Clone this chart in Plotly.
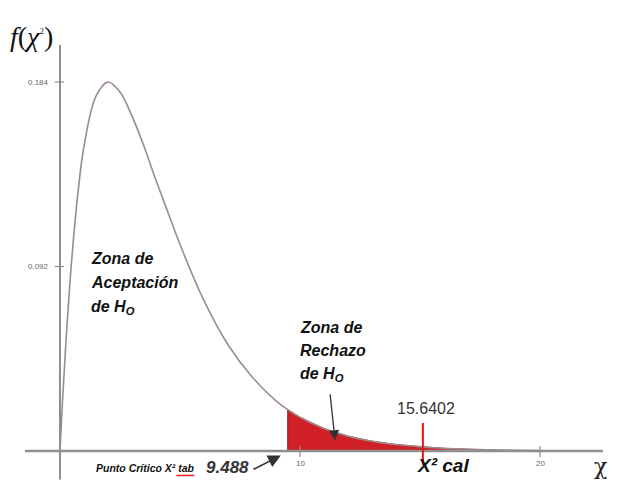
import plotly.graph_objects as go

# Chi-square density (df = 4)
chi_x = [0, 0.1, 0.25, 0.5, 0.75, 1, 1.5, 2, 2.5, 3, 3.5, 4, 4.5, 5, 6, 7, 8, 9,
         9.488, 10, 11, 12, 13, 14, 15, 16, 17, 17.5, 18, 19, 20]
chi_y = [0, 0.024, 0.055, 0.097, 0.129, 0.152, 0.177, 0.184, 0.179, 0.167, 0.152,
         0.135, 0.119, 0.103, 0.075, 0.053, 0.037, 0.025,
         0.0206, 0.0168, 0.0112, 0.0074, 0.0049, 0.0032, 0.0021, 0.0013, 0.0009,
         0.0007, 0.0006, 0.0004, 0.0002]

critical_value = 9.488
critical_label = "9.488"
chi_cal_label = "15.6402"
chi_cal_pos = 15.12          # position where the marker is drawn in the picture
reject_end = 17.5
y_ticks = [0.092, 0.184]
y_tick_labels = ["0.092", "0.184"]
x_ticks = [10, 20]
x_tick_labels = ["10", "20"]

AX_GRAY = "#8f8f8f"
CURVE = "#9c8a8c"
RED = "#d11f26"
FONT = "Liberation Sans, Arial, sans-serif"

fig = go.Figure()

# rejection region fill
fx = [x for x in chi_x if critical_value <= x <= reject_end]
fy = [y for x, y in zip(chi_x, chi_y) if critical_value <= x <= reject_end]
fig.add_trace(go.Scatter(x=[fx[0]] + fx + [fx[-1]], y=[0] + fy + [0], mode="lines",
                         fill="toself", fillcolor=RED, line=dict(color="#9a1a1e", width=1),
                         hoverinfo="skip", showlegend=False))

# density curve
fig.add_trace(go.Scatter(x=chi_x, y=chi_y, mode="lines", line=dict(color=CURVE, width=1.6, shape="spline"),
                         hoverinfo="skip", showlegend=False))

shapes = []
# axes
shapes.append(dict(type="line", x0=-1.46, x1=22.62, y0=0, y1=0, line=dict(color=AX_GRAY, width=2.5)))
shapes.append(dict(type="line", x0=0, x1=0, y0=-0.0142, y1=0.2025, line=dict(color=AX_GRAY, width=2)))
for v in y_ticks:
    shapes.append(dict(type="line", x0=-0.22, x1=0.17, y0=v, y1=v, line=dict(color=AX_GRAY, width=1.2)))
for v in x_ticks:
    shapes.append(dict(type="line", x0=v, x1=v, y0=-0.003, y1=0.0025, line=dict(color=AX_GRAY, width=1.2)))
# chi2 calculated marker
shapes.append(dict(type="line", x0=chi_cal_pos, x1=chi_cal_pos, y0=-0.007, y1=0.014, line=dict(color="#ee1111", width=2)))
# spell-check squiggle under "tab"
shapes.append(dict(type="line", x0=4.85, x1=5.6, y0=-0.0122, y1=-0.0122, line=dict(color="#e02020", width=1.5)))

ann = []
def txt(x, y, text, size, color="#111", xanchor="left", family=FONT):
    ann.append(dict(x=x, y=y, text=text, showarrow=False, xanchor=xanchor, yanchor="middle",
                    font=dict(size=size, color=color, family=family)))

for v, lab in zip(y_ticks, y_tick_labels):
    txt(-0.36, v, lab, 8, "#666", "right")
for v, lab in zip(x_ticks, x_tick_labels):
    txt(v, -0.0062, lab, 8, "#666", "center")

txt(-1.2, 0.2065, "<i>f</i>(<i>χ</i><sup><span style='font-size:9px'>2</span></sup>)", 28, "#111", "center", "Liberation Serif, serif")
txt(22.5, -0.0078, "χ", 22, "#222", "center", "DejaVu Serif, serif")

for i, line in enumerate(["Zona de", "Aceptación", "de H<sub>O</sub>"]):
    txt(1.2, 0.0962 - i * 0.0124, "<b><i>" + line + "</i></b>", 16)
for i, line in enumerate(["Zona de", "Rechazo", "de H<sub>O</sub>"]):
    txt(9.9, 0.0618 - i * 0.0118, "<b><i>" + line + "</i></b>", 16)

txt(15.23, 0.0214, chi_cal_label, 16, "#333", "center")
txt(15.95, -0.0072, "<b><i>X² cal</i></b>", 19, "#111", "center")
txt(1.4, -0.0085, "<b><i>Punto Crítico X² tab</i></b>", 10.5, "#111", "left")
txt(6.0, -0.0082, "<b><i>" + critical_label + "</i></b>", 17, "#333", "left")

# arrows
ann.append(dict(x=9.2, y=-0.0022, ax=8.0, ay=-0.0095, axref="x", ayref="y", xref="x", yref="y",
                showarrow=True, arrowhead=2, arrowsize=1.6, arrowwidth=1.6, arrowcolor="#333", text=""))
ann.append(dict(x=11.46, y=0.0052, ax=11.25, ay=0.029, axref="x", ayref="y", xref="x", yref="y",
                showarrow=True, arrowhead=2, arrowsize=1.6, arrowwidth=1.3, arrowcolor="#333", text=""))

# page body has an 8 px margin: the figure is drawn 8 px in from the window corner
fig.update_layout(
    width=609, height=472, margin=dict(l=0, r=0, t=0, b=0),
    paper_bgcolor="white", plot_bgcolor="white",
    xaxis=dict(range=[-2.1667, 23.2083], visible=False, fixedrange=True),
    yaxis=dict(range=[-0.014464, 0.22095], visible=False, fixedrange=True),
    shapes=shapes, annotations=ann, showlegend=False,
)

fig.write_html("out.html")
